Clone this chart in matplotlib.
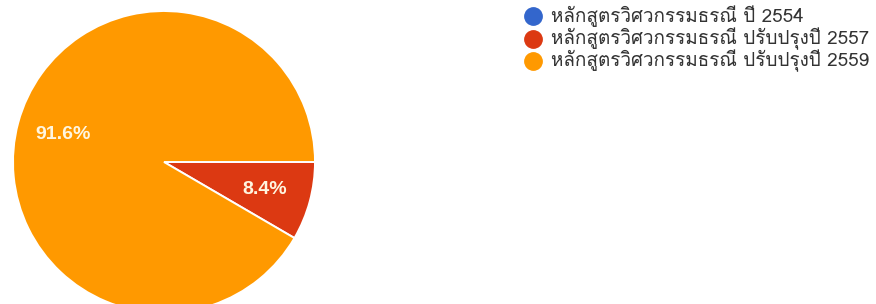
import matplotlib
matplotlib.use("Agg")
import matplotlib.pyplot as plt
from matplotlib.lines import Line2D

# data
categories = ["หลักสูตรวิศวกรรมธรณี ปี 2554",
              "หลักสูตรวิศวกรรมธรณี ปรับปรุงปี 2557",
              "หลักสูตรวิศวกรรมธรณี ปรับปรุงปี 2559"]
shares = [0.0, 8.4, 91.6]
colors = ["#3366cc", "#dc3912", "#ff9900"]

fonts = ["Loma", "Noto Sans Thai Looped", "Liberation Sans", "DejaVu Sans"]
plt.rcParams["font.family"] = fonts

W, H = 876, 304
fig = plt.figure(figsize=(W / 100, H / 100), dpi=100)

# pie axes: center (164, 162) px, radius 151 px
cx, cy, r = 164, 162, 151
ax = fig.add_axes([(cx - r) / W, (H - cy - r) / H, 2 * r / W, 2 * r / H])


def pct(p):
    return f"{p:.1f}%" if p >= 0.5 else ""


wedges, texts, autotexts = ax.pie(
    shares, colors=colors, startangle=0, counterclock=False,
    autopct=pct, pctdistance=0.69,
    wedgeprops=dict(edgecolor="white", linewidth=1.4),
    textprops=dict(color="white", fontsize=14, fontweight="bold",
                   family=["Liberation Sans"]))
for t in autotexts:
    t.set_color("#fff6e0")
ax.set_xlim(-1, 1)
ax.set_ylim(-1, 1)
ax.set_aspect("equal")
ax.axis("off")

# legend drawn by hand, Google Forms style
lx, ty, step = 533, 16, 22.5
for i, (lab, col) in enumerate(zip(categories, colors)):
    y = 1 - (ty + i * step) / H
    fig.add_artist(Line2D([lx / W], [y], marker="o", markersize=12.5,
                          color=col, linestyle="none",
                          transform=fig.transFigure))
    fig.text((lx + 18) / W, y, lab, va="center", ha="left",
             fontsize=13.6, color="#333333")

fig.savefig("out.png", dpi=100)
